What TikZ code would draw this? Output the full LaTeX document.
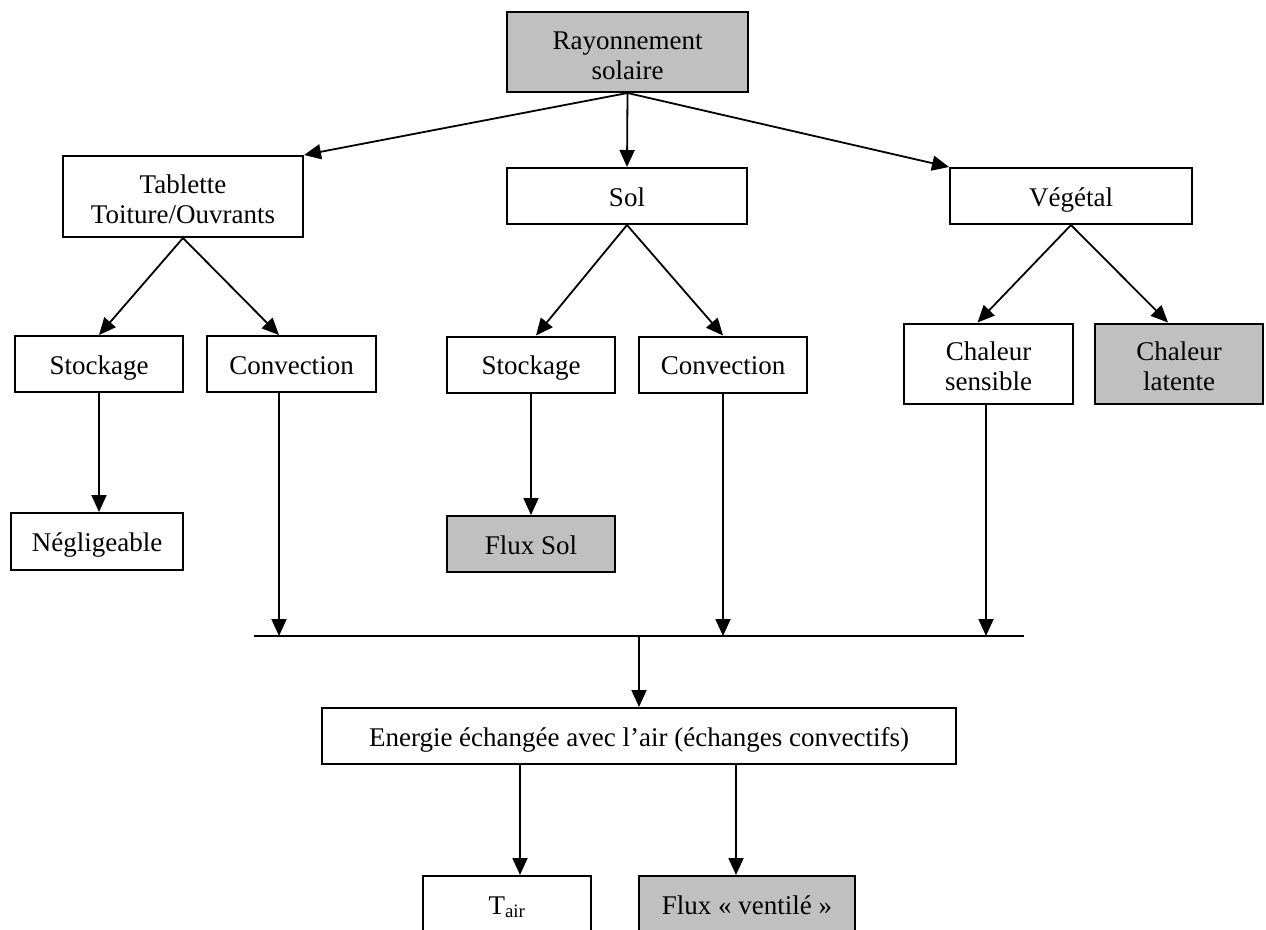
\documentclass[tikz,border=0pt]{standalone}
\usepackage{fontspec}
\setmainfont{Liberation Serif}
\usetikzlibrary{arrows.meta}
\definecolor{boxgray}{HTML}{C0C0C0}
\begin{document}
\begin{tikzpicture}[
    x=1pt, y=-1pt,
    box/.style={rectangle, draw, line width=2pt, inner sep=0pt, minimum width=168pt, minimum height=56pt, text height=22pt, text depth=2pt, align=center, font=\fontsize{27}{30}\selectfont},
    grey/.style={box, fill=boxgray},
    twolines/.style={minimum height=80pt, text height=54pt, text depth=0pt},
    arrow/.style={-{Triangle[length=17pt,width=15pt]}, line width=1.8pt},
    bus/.style={line width=2pt},
]
\useasboundingbox (0,0) rectangle (1266,929);
% level 0
\node[grey, twolines, minimum width=241pt] (ray) at (627.5,52) {Rayonnement\\solaire};
% level 1
\node[box, twolines, minimum width=240pt, minimum height=81pt] (tab) at (183,196.5) {Tablette\\Toiture/Ouvrants};
\node[box, minimum width=240pt] (sol) at (627,196) {Sol};
\node[box, minimum width=242pt] (veg) at (1071,196) {Végétal};
% level 2
\node[box] (stoA) at (99,364) {Stockage};
\node[box, minimum width=169pt] (convA) at (291.5,364) {Convection};
\node[box] (stoB) at (531,364.5) {Stockage};
\node[box] (convB) at (723,364.5) {Convection};
\node[box, twolines, minimum width=169pt] (chs) at (988.5,363.5) {Chaleur\\sensible};
\node[grey, twolines] (chl) at (1179,363.5) {Chaleur\\latente};
% level 3
\node[box, minimum width=172pt, minimum height=57pt] (negl) at (97,541.5) {Négligeable};
\node[grey] (fsol) at (531,544) {Flux Sol};
% collecting line
\coordinate (busL) at (254,636);
\coordinate (busR) at (1024,636);
\coordinate (jA) at (279,636);
\coordinate (jB) at (723,636);
\coordinate (jC) at (986,636);
\coordinate (jM) at (639,636);
% bottom
\node[box, minimum width=634pt] (ener) at (639,736) {Energie échangée avec l’air (échanges convectifs)};
\node[box] (tair) at (507,904) {T\textsubscript{air}};
\node[grey, minimum width=216pt] (fven) at (747,904) {Flux « ventilé »};
% arrows
\draw[arrow] (ray.south) -- (tab.north east);
\draw[arrow] (ray.south) -- (sol.north);
\draw[arrow] (ray.south) -- (veg.north west);
\draw[arrow] (tab.south) -- (stoA.north);
\draw[arrow] (tab.south) -- (convA.north -| jA);
\draw[arrow] (sol.south) -- ([xshift=5pt]stoB.north);
\draw[arrow] (sol.south) -- (convB.north);
\draw[arrow] (veg.south) -- ([xshift=-11pt]chs.north);
\draw[arrow] (veg.south) -- ([xshift=-11pt]chl.north);
\draw[arrow] (stoA.south) -- (stoA.south |- negl.north);
\draw[arrow] (stoB.south) -- (stoB.south |- fsol.north);
\draw[bus] (busL) -- (busR);
\draw[arrow] (convA.south -| jA) -- (jA);
\draw[arrow] (convB.south) -- (jB);
\draw[arrow] (chs.south -| jC) -- (jC);
\draw[arrow] (jM) -- (ener.north);
\draw[arrow] ([xshift=-119pt]ener.south) -- ([xshift=13pt]tair.north);
\draw[arrow] ([xshift=97pt]ener.south) -- ([xshift=-11pt]fven.north);
\end{tikzpicture}
\end{document}
